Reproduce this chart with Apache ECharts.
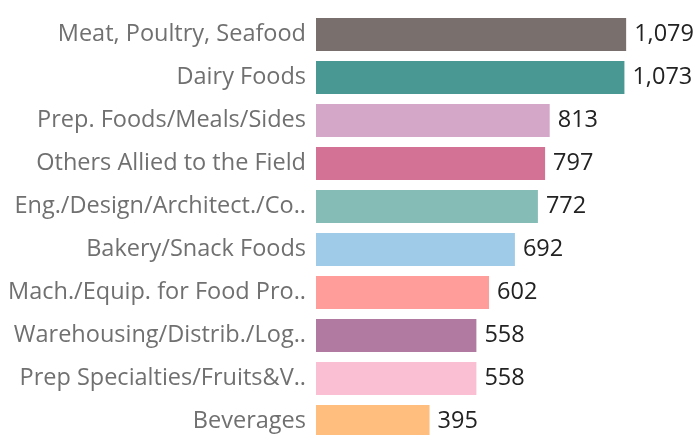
<!DOCTYPE html>
<html>
<head>
<meta charset="utf-8">
<script src="https://cdn.jsdelivr.net/npm/echarts@6/dist/echarts.min.js"></script>
<style>
  html, body { margin: 0; padding: 0; background: #fff; }
  #chart { width: 696px; height: 435px; }
</style>
</head>
<body>
<div id="chart"></div>
<script>
// data
const categories = [
  'Meat, Poultry, Seafood',
  'Dairy Foods',
  'Prep. Foods/Meals/Sides',
  'Others Allied to the Field',
  'Eng./Design/Architect./Co..',
  'Bakery/Snack Foods',
  'Mach./Equip. for Food Pro..',
  'Warehousing/Distrib./Log..',
  'Prep Specialties/Fruits&V..',
  'Beverages'
]
const values = [1079, 1073, 813, 797, 772, 692, 602, 558, 558, 395]
const colors = [
  '#79706e', '#499894', '#d4a6c8', '#d37295', '#86bcb6',
  '#a0cbe8', '#ff9d9a', '#b07aa1', '#fabfd2', '#ffbe7d'
]

const font = '"Open Sans", sans-serif'

echarts.init(document.getElementById('chart')).setOption({
  animation: false,
  grid: { left: 316, top: 13, width: 380, height: 430, outerBoundsMode: 'none' },
  xAxis: {
    type: 'value',
    min: 0,
    max: 1322,
    show: false
  },
  yAxis: {
    type: 'category',
    inverse: true,
    data: categories,
    axisLine: { show: false },
    axisTick: { show: false },
    axisLabel: { color: '#707070', fontSize: 23.5, fontFamily: font, margin: 10 }
  },
  series: [
    {
      type: 'bar',
      barCategoryGap: '23%',
      data: values.map((v, i) => ({ value: v, itemStyle: { color: colors[i] } })),
      label: {
        show: true,
        position: 'right',
        distance: 8,
        color: '#222',
        fontSize: 23.5,
        fontFamily: font,
        formatter: (p) => p.value.toLocaleString('en-US')
      }
    }
  ]
})
</script>
</body>
</html>
